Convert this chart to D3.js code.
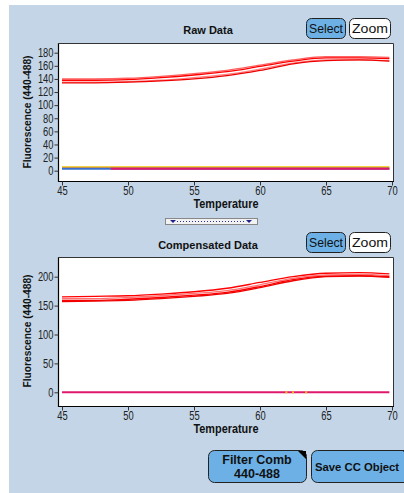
<!DOCTYPE html>
<html>
<head>
<meta charset="utf-8">
<title>Melt curves</title>
<script src="https://d3js.org/d3.v7.min.js"></script>
<style>
  body { margin: 0; background: #fff; }
  text { font-family: "Liberation Sans", Arial, sans-serif; }
</style>
</head>
<body>
<script>
// temperatures where curves are sampled
var temps = [45, 47.5, 50, 52.5, 55, 57.5, 60, 62.5, 65, 67.5, 69.8];

// raw data, red wells
var rawA = [140, 140, 141, 144, 148, 153, 161, 169, 174, 174, 173];
var rawB = [138, 138, 139, 142, 146, 151, 159, 167, 172, 172, 171];
var rawC = [135, 135, 136, 138, 142, 147, 155, 164, 169, 169, 168];
var rawD = [134, 134, 135, 137, 140, 145, 153, 163, 168, 169, 167];
// raw data, flat wells
var rawYellow = [5.5, 5.5, 5.5, 5.5, 5.5, 5.5, 5.5, 5.5, 5.5, 5.5, 5.5];
var rawOrange = [4.5, 4.5, 4.5, 4.5, 4.5, 4.5, 4.5, 4.5, 4.5, 4.5, 4.5];
var rawBlue = [3, 3, 3, 3, 3, 3, 3, 3, 3, 3, 3];
var magTemps = [48.7, 52.5, 55, 57.5, 60, 62.5, 65, 67.5, 69.8];
var rawMagenta = [3, 3, 3, 3, 3, 3, 3, 3, 3];

// compensated data
var compA = [165, 166, 167, 170, 174, 180, 190, 200, 206, 207, 205];
var compB = [162, 162, 164, 167, 171, 176, 186, 197, 203, 204, 202];
var compC = [159, 159, 161, 164, 168, 173, 183, 195, 201, 202, 200];
var compD = [157, 158, 159, 162, 166, 171, 181, 193, 200, 201, 199];
var compMagenta = [0, 0, 0, 0, 0, 0, 0, 0, 0, 0, 0];
var compDots = [62, 62.5, 63.5];

var xTicks = [45, 50, 55, 60, 65, 70];
var rawTicks = [0, 20, 40, 60, 80, 100, 120, 140, 160, 180];
var compTicks = [0, 50, 100, 150, 200];

var W = 404, H = 493;
var svg = d3.select("body").append("svg").attr("width", W).attr("height", H);

svg.append("rect").attr("x", 9).attr("y", 5).attr("width", W - 9).attr("height", H - 5)
  .attr("fill", "#c3d5e6");

var btnBlue = "#6cb0e6";

function button(x, y, w, h, fill, label) {
  var g = svg.append("g");
  g.append("rect").attr("x", x + 0.5).attr("y", y + 0.5).attr("width", w).attr("height", h)
    .attr("rx", 5).attr("fill", fill).attr("stroke", "#222").attr("stroke-width", 1);
  g.append("text").attr("x", x + w / 2 + 0.5).attr("y", y + h / 2 + 5).attr("text-anchor", "middle")
    .attr("font-size", 13).attr("fill", "#111")
    .attr("textLength", w - 5).attr("lengthAdjust", "spacingAndGlyphs").text(label);
}

// narrow digits like the original tick labels
function narrow(sel) {
  sel.attr("font-size", 12).attr("fill", "#222")
    .attr("lengthAdjust", "spacingAndGlyphs")
    .attr("textLength", function (d) { return String(d).length * 5.2; });
}

function panel(opt) {
  var x = d3.scaleLinear().domain([45, 70]).range([62, 392]);
  var y = d3.scaleLinear().domain([0, opt.top]).range([opt.zeroY, opt.topY]);
  var L = 58, R = 394;

  svg.append("text").attr("x", 208).attr("y", opt.titleY).attr("text-anchor", "middle")
    .attr("font-weight", "bold").attr("font-size", 11).attr("fill", "#111").text(opt.title);

  button(306, opt.btnY, 39, 20, btnBlue, "Select");
  button(349, opt.btnY, 41, 20, "#fff", "Zoom");

  svg.append("rect").attr("x", L).attr("y", opt.boxTop).attr("width", R - L).attr("height", opt.boxBot - opt.boxTop)
    .attr("fill", "#fff");

  var clip = "clip" + opt.id;
  svg.append("clipPath").attr("id", clip).append("rect")
    .attr("x", L).attr("y", opt.boxTop).attr("width", R - L).attr("height", opt.boxBot - opt.boxTop);

  var line = d3.line().curve(d3.curveMonotoneX);
  var plot = svg.append("g").attr("clip-path", "url(#" + clip + ")");

  opt.series.forEach(function (s) {
    var xs = s.t || temps;
    plot.append("path")
      .attr("d", line(xs.map(function (t, i) { return [x(t), y(s.v[i])]; })))
      .attr("fill", "none").attr("stroke", s.c).attr("stroke-width", s.w || 1.3);
  });
  (opt.dots || []).forEach(function (t) {
    plot.append("rect").attr("x", x(t) - 1).attr("y", y(0) - 1).attr("width", 2).attr("height", 2)
      .attr("fill", "#f0c020");
  });

  // frame: left and bottom dark, top and right lighter
  svg.append("path").attr("d", "M" + (L + 0.5) + "," + opt.boxTop + "V" + (opt.boxBot + 0.5) + "H" + R)
    .attr("fill", "none").attr("stroke", "#000").attr("stroke-width", 1.2);
  svg.append("path").attr("d", "M" + L + "," + (opt.boxTop + 0.5) + "H" + (R - 0.5) + "V" + opt.boxBot)
    .attr("fill", "none").attr("stroke", "#333").attr("stroke-width", 1);

  // y axis
  var yMinor = d3.range(0, opt.top + 1, 10);
  var ya = svg.append("g").attr("transform", "translate(" + (L + 0.5) + ",0)");
  ya.call(d3.axisLeft(y).tickValues(yMinor).tickSize(3).tickFormat(""));
  ya.call(d3.axisLeft(y).tickValues(opt.yTicks).tickSize(4).tickPadding(1));
  ya.select(".domain").remove();
  ya.selectAll("line").attr("stroke", "#333");
  ya.selectAll("text").call(narrow);

  // x axis
  var xMinor = d3.range(45, 70.1, 1);
  var xa = svg.append("g").attr("transform", "translate(0," + (opt.boxBot + 0.5) + ")");
  xa.call(d3.axisBottom(x).tickValues(xMinor).tickSize(2).tickFormat(""));
  xa.call(d3.axisBottom(x).tickValues(xTicks).tickSize(4).tickPadding(1));
  xa.select(".domain").remove();
  xa.selectAll("line").attr("stroke", "#333");
  xa.selectAll("text").call(narrow);

  svg.append("text").attr("x", 226).attr("y", opt.boxBot + 27).attr("text-anchor", "middle")
    .attr("font-weight", "bold").attr("font-size", 12).attr("fill", "#111")
    .attr("textLength", 65).attr("lengthAdjust", "spacingAndGlyphs").text("Temperature");

  svg.append("text").attr("transform", "translate(31," + opt.labelY + ") rotate(-90)")
    .attr("text-anchor", "middle").attr("font-weight", "bold").attr("font-size", 11)
    .attr("fill", "#111").attr("textLength", 113).attr("lengthAdjust", "spacingAndGlyphs")
    .text("Fluorescence (440-488)");
}

panel({
  id: 1, title: "Raw Data", titleY: 34, btnY: 18,
  boxTop: 43, boxBot: 181, zeroY: 170.7, topY: 52.7, top: 180, yTicks: rawTicks, labelY: 112,
  series: [
    { v: rawYellow, c: "#f5d040", w: 2 },
    { v: rawOrange, c: "#e89020", w: 1 },
    { v: rawBlue, c: "#3a6fd0", w: 2 },
    { v: rawMagenta, t: magTemps, c: "#e0186c", w: 2 },
    { v: rawA, c: "#ff6060" },
    { v: rawB, c: "#ff0000" },
    { v: rawC, c: "#ff8080" },
    { v: rawD, c: "#ee0000" }
  ]
});

panel({
  id: 2, title: "Compensated Data", titleY: 249, btnY: 232,
  boxTop: 257, boxBot: 406, zeroY: 392.3, topY: 276.7, top: 200, yTicks: compTicks, labelY: 331,
  series: [
    { v: compMagenta, c: "#e0186c", w: 2 },
    { v: compA, c: "#ff0000" },
    { v: compB, c: "#ff7070" },
    { v: compC, c: "#ff0000" },
    { v: compD, c: "#ee0000" }
  ],
  dots: compDots
});

// range slider between the panels
var sl = svg.append("g");
sl.append("rect").attr("x", 165.5).attr("y", 218.5).attr("width", 92).attr("height", 6)
  .attr("fill", "#f2f2f2").attr("stroke", "#888");
sl.append("line").attr("x1", 177).attr("x2", 246).attr("y1", 221.5).attr("y2", 221.5)
  .attr("stroke", "#3030a0").attr("stroke-dasharray", "1,2");
[173, 249].forEach(function (cx) {
  sl.append("path").attr("d", "M" + (cx - 3) + ",220L" + (cx + 3) + ",220L" + cx + ",223Z").attr("fill", "#20208a");
});

// bottom buttons
function bigButton(x, w, lines, fs) {
  var g = svg.append("g");
  g.append("rect").attr("x", x + 0.5).attr("y", 450.5).attr("width", w).attr("height", 32)
    .attr("rx", 6).attr("fill", btnBlue).attr("stroke", "#222");
  g.append("path").attr("d", "M" + (x + w - 8) + ",451L" + (x + w) + ",451L" + (x + w) + ",459Z").attr("fill", "#000");
  lines.forEach(function (t, i) {
    g.append("text").attr("y", lines.length > 1 ? 464 + i * 14 : 471)
      .attr("x", lines.length > 1 ? x + w / 2 : x + 4)
      .attr("text-anchor", lines.length > 1 ? "middle" : "start")
      .attr("font-weight", "bold").attr("font-size", fs).attr("fill", "#111").text(t);
  });
}
bigButton(208, 98, ["Filter Comb", "440-488"], 12.5);
bigButton(311, 100, ["Save CC Object"], 11.3);
</script>
</body>
</html>
